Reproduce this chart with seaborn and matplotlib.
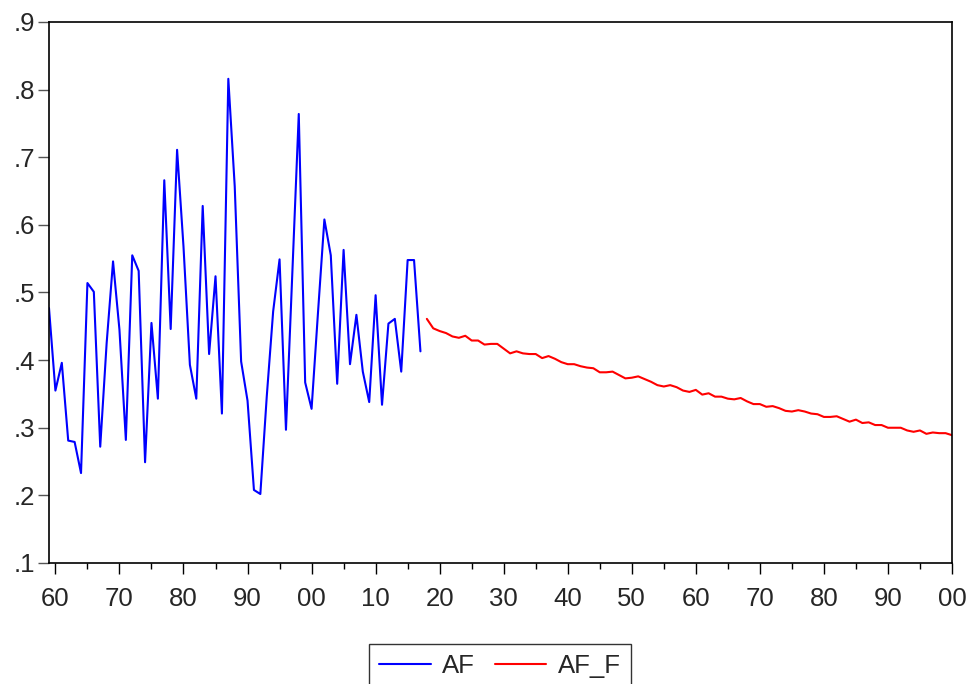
import matplotlib
matplotlib.use("Agg")
import matplotlib.pyplot as plt
from matplotlib.ticker import FuncFormatter, MultipleLocator
import numpy as np
import pandas as pd
import seaborn as sns

# Observed series, 1959-2017
af_years = list(range(1959, 2018))
af_values = [
    0.477, 0.355, 0.396, 0.281, 0.279, 0.233, 0.514, 0.501, 0.272, 0.425,
    0.546, 0.445, 0.282, 0.555, 0.532, 0.249, 0.455, 0.343, 0.666, 0.446,
    0.711, 0.568, 0.393, 0.343, 0.628, 0.409, 0.524, 0.321, 0.816, 0.657,
    0.398, 0.340, 0.208, 0.202, 0.346, 0.472, 0.549, 0.297, 0.530, 0.764,
    0.367, 0.328, 0.470, 0.608, 0.555, 0.365, 0.563, 0.394, 0.467, 0.383,
    0.338, 0.496, 0.334, 0.454, 0.461, 0.383, 0.548, 0.548, 0.413,
]

# Forecast series, 2018-2100
af_f_years = list(range(2018, 2101))
af_f_values = [
    0.461, 0.447, 0.443, 0.440, 0.435, 0.433, 0.436, 0.429, 0.429, 0.423,
    0.424, 0.424, 0.417, 0.410, 0.413, 0.410, 0.409, 0.409, 0.403, 0.406,
    0.402, 0.397, 0.394, 0.394, 0.391, 0.389, 0.388, 0.382, 0.382, 0.383,
    0.378, 0.373, 0.374, 0.376, 0.372, 0.368, 0.363, 0.361, 0.363, 0.360,
    0.355, 0.353, 0.356, 0.349, 0.351, 0.346, 0.346, 0.343, 0.342, 0.344,
    0.339, 0.335, 0.335, 0.331, 0.332, 0.329, 0.325, 0.324, 0.326, 0.324,
    0.321, 0.320, 0.316, 0.316, 0.317, 0.313, 0.309, 0.312, 0.307, 0.308,
    0.304, 0.304, 0.300, 0.300, 0.300, 0.296, 0.294, 0.296, 0.291, 0.293,
    0.292, 0.292, 0.289,
]

series_names = ["AF", "AF_F"]
series_colors = ["#0000ff", "#ff0000"]

df = pd.concat([
    pd.DataFrame({"year": af_years, "value": af_values, "series": series_names[0]}),
    pd.DataFrame({"year": af_f_years, "value": af_f_values, "series": series_names[1]}),
], ignore_index=True)

sns.set_style("ticks")
plt.rcParams["font.family"] = ["Liberation Sans", "DejaVu Sans"]

fig = plt.figure(figsize=(9.66, 6.84), dpi=100)
ax = fig.add_axes([49 / 966, 1 - 563 / 684, (952 - 49) / 966, (563 - 22) / 684])

sns.lineplot(
    data=df, x="year", y="value", hue="series",
    palette=dict(zip(series_names, series_colors)),
    linewidth=1.5, ax=ax, estimator=None, sort=True,
)

ax.set_xlim(1959, 2100)
ax.set_ylim(0.1, 0.9)
ax.set_xlabel("")
ax.set_ylabel("")

ax.xaxis.set_major_locator(MultipleLocator(10))
ax.xaxis.set_minor_locator(MultipleLocator(5))
ax.yaxis.set_major_locator(MultipleLocator(0.1))
ax.xaxis.set_major_formatter(FuncFormatter(lambda v, p: f"{int(round(v)) % 100:02d}"))
ax.yaxis.set_major_formatter(FuncFormatter(lambda v, p: f"{v:.1f}".lstrip("0")))

for side in ["left", "right", "top", "bottom"]:
    ax.spines[side].set_visible(True)
    ax.spines[side].set_color("black")
    ax.spines[side].set_linewidth(1.2)

font_size = 18.5
ax.tick_params(axis="x", which="major", length=8, width=1, color="black",
               labelsize=font_size, pad=9, top=False)
ax.tick_params(axis="x", which="minor", length=4, width=1, color="black", top=False)
ax.tick_params(axis="y", which="major", length=8, width=1, color="#555555",
               labelsize=font_size, pad=2, right=False)

ax.legend_.remove()
handles, labels = ax.get_legend_handles_labels()
leg = fig.legend(
    handles, labels, loc="upper center", bbox_to_anchor=(500 / 966, 1 - 644 / 684),
    ncol=2, fontsize=font_size, frameon=True, fancybox=False, handlelength=2.0,
    handletextpad=0.45, columnspacing=0.75, borderpad=0.4, borderaxespad=0,
)
leg.get_frame().set_edgecolor("black")
leg.get_frame().set_linewidth(1.0)
for line in leg.get_lines():
    line.set_linewidth(1.5)

fig.savefig("out.png", dpi=100)
